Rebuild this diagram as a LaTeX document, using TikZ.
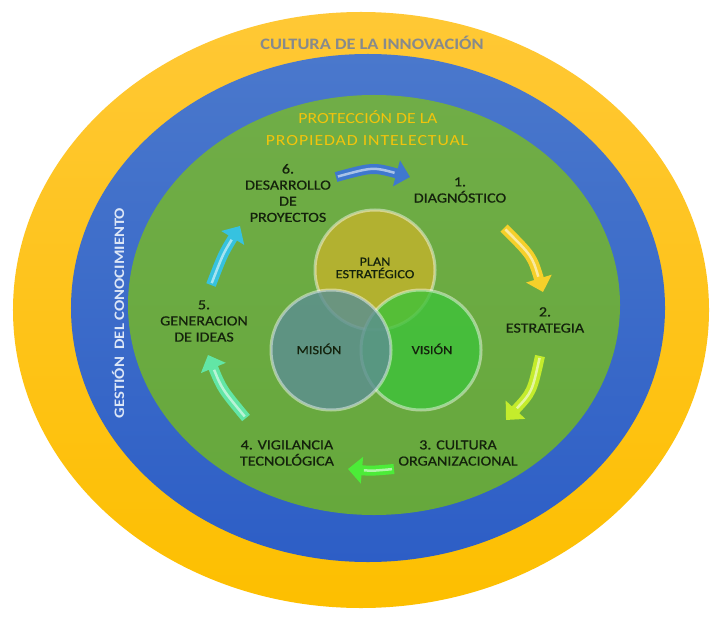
\documentclass[tikz,border=0pt]{standalone}
\usepackage{fontspec}
\setmainfont[FakeStretch=1.15]{Carlito}
\usetikzlibrary{arrows.meta}
\definecolor{gold}{HTML}{FDBF00}
\definecolor{goldtop}{HTML}{FFC835}
\definecolor{bluetop}{HTML}{4A78CC}
\definecolor{bluebot}{HTML}{2D5EC6}
\definecolor{greenin}{HTML}{70AD47}
\definecolor{greenbot}{HTML}{66A83C}
\definecolor{lbl}{HTML}{14220C}
\definecolor{grayt}{HTML}{878A8C}
\definecolor{protc}{HTML}{F2C40C}
\definecolor{gestc}{HTML}{DCE6F6}
\definecolor{planc}{HTML}{BAB22E}
\definecolor{misc}{HTML}{5C8F91}
\definecolor{visc}{HTML}{3EC23A}
\definecolor{arblue}{HTML}{3F78CE}
\definecolor{aryel}{HTML}{F5D02A}
\definecolor{arylg}{HTML}{C4EC2C}
\definecolor{argrn}{HTML}{4CEC38}
\definecolor{armint}{HTML}{62E6A6}
\definecolor{arcyan}{HTML}{36C2E0}
\tikzset{
  lbltext/.style={text=lbl, align=center, font=\fontsize{14}{16.2}\selectfont\addfontfeature{FakeBold=0.7}, inner sep=0pt},
  circtext/.style={text=lbl, align=center, font=\fontsize{12.5}{12.5}\selectfont\addfontfeature{FakeBold=0.7}, inner sep=0pt},
  bigarrow/.style={line width=10bp, -{Triangle[width=26bp,length=14bp]}},
  shine/.style={line width=2.5bp, white, opacity=0.55, shorten >=16bp, shorten <=2bp},
  glass/.style={circle, minimum size=120bp, inner sep=0pt, draw=white, draw opacity=0.45, line width=3bp},
}
\begin{document}
\begin{tikzpicture}[x=1bp, y=-1bp]
\useasboundingbox (0,0) rectangle (710,617);
\fill[white] (0,0) rectangle (710,617);
% rings
\path[shade, top color=goldtop, bottom color=gold] (361,310) ellipse [x radius=348bp, y radius=298bp];
\path[shade, top color=bluetop, bottom color=bluebot] (368,308) ellipse [x radius=297bp, y radius=254bp];
\path[shade, top color=greenin, bottom color=greenbot] (374,305) ellipse [x radius=246bp, y radius=210bp];
% ring texts
\node[font=\bfseries\fontsize{16}{18}\selectfont, text=grayt] (tcult) at (372,43) {CULTURA DE LA INNOVACIÓN};
\node[font=\fontsize{15.5}{18}\selectfont, text=protc] (tprot1) at (368,117) {PROTECCIÓN DE LA};
\node[font=\fontsize{15.5}{18}\selectfont\addfontfeature{LetterSpace=6}, text=protc] (tprot2) at (367,141) {PROPIEDAD INTELECTUAL};
\node[font=\bfseries\fontsize{14.5}{17}\selectfont, text=gestc, rotate=90] (tgest) at (118,313) {GESTIÓN\ \ DEL CONOCIMIENTO};
% central circles
\node[glass, fill=planc, fill opacity=0.9] (plan) at (375,270) {};
\node[glass, fill=visc, fill opacity=0.8] (vis) at (421,350) {};
\node[glass, fill=misc, fill opacity=0.82] (mis) at (331,350) {};
\node[circtext] (tplan) at (375,268) {PLAN\\ESTRATÉGICO};
\node[circtext] (tmis) at (319,349) {MISIÓN};
\node[circtext] (tvis) at (432,349) {VISIÓN};
% cycle labels
\node[lbltext] (n6) at (288,193) {6.\\DESARROLLO\\DE\\PROYECTOS};
\node[lbltext] (n1) at (460,190) {1.\\DIAGNÓSTICO};
\node[lbltext] (n2) at (545,320) {2.\\ESTRATEGIA};
\node[lbltext] (n3) at (458,453) {3. CULTURA\\ORGANIZACIONAL};
\node[lbltext] (n4) at (287,453) {4. VIGILANCIA\\TECNOLÓGICA};
\node[lbltext] (n5) at (204,321) {5.\\GENERACION\\DE IDEAS};
% arrow end points
\coordinate (a6s) at (336,177); \coordinate (a6e) at (410,177);
\coordinate (a1s) at (504,228); \coordinate (a1e) at (543,292);
\coordinate (a2s) at (540,356); \coordinate (a2e) at (506,420);
\coordinate (a3s) at (394,469); \coordinate (a3e) at (348,469);
\coordinate (a4s) at (246,418); \coordinate (a4e) at (208,355);
\coordinate (a5s) at (211,285); \coordinate (a5e) at (240,226);
% arrows
\draw[bigarrow, arblue] (a6s) .. controls (373,167) .. (a6e);
\draw[shine] (a6s) .. controls (373,167) .. (a6e);
\draw[bigarrow, aryel] (a1s) .. controls (532,256) .. (a1e);
\draw[shine] (a1s) .. controls (532,256) .. (a1e);
\draw[bigarrow, arylg] (a2s) .. controls (532,392) .. (a2e);
\draw[shine] (a2s) .. controls (532,392) .. (a2e);
\draw[bigarrow, argrn] (a3s) .. controls (371,471) .. (a3e);
\draw[shine] (a3s) .. controls (371,471) .. (a3e);
\draw[bigarrow, armint] (a4s) .. controls (222,389) .. (a4e);
\draw[shine] (a4s) .. controls (222,389) .. (a4e);
\draw[bigarrow, arcyan] (a5s) .. controls (223,254) .. (a5e);
\draw[shine] (a5s) .. controls (223,254) .. (a5e);
\end{tikzpicture}
\end{document}
